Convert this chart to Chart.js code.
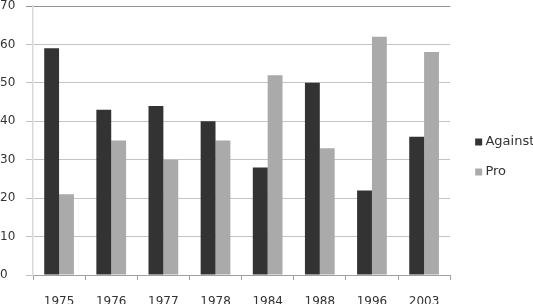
<!DOCTYPE html>
<html>
<head>
<meta charset="utf-8">
<script src="https://cdn.jsdelivr.net/npm/chart.js@4"></script>
<style>
  html, body { margin: 0; padding: 0; background: #fff; }
  #wrap { width: 533px; height: 304px; }
</style>
</head>
<body>
<div id="wrap"><canvas id="c" width="533" height="304"></canvas></div>
<script>
const categories = ["1975", "1976", "1977", "1978", "1984", "1988", "1996", "2003"];
const against = [59, 43, 44, 40, 28, 50, 22, 36];
const pro = [21, 35, 30, 35, 52, 33, 62, 58];
const seriesNames = ["Against", "Pro"];
const yTicks = [0, 10, 20, 30, 40, 50, 60, 70];

Chart.defaults.font.family = "'DejaVu Sans', sans-serif";
Chart.defaults.font.size = 12;
Chart.defaults.color = '#333';

const legendNudge = {
  id: 'legendNudge',
  afterLayout(chart) {
    const lg = chart.legend;
    if (!lg) return;
    lg.left += 11.25;
    lg.top += 5;
    lg.bottom += 5;
  }
};

new Chart(document.getElementById('c'), {
  type: 'bar',
  data: {
    labels: categories,
    datasets: [
      { label: seriesNames[0], data: against, backgroundColor: '#333333', borderWidth: 0 },
      { label: seriesNames[1], data: pro, backgroundColor: '#aaaaaa', borderWidth: 0 }
    ]
  },
  plugins: [legendNudge],
  options: {
    responsive: false,
    animation: false,
    devicePixelRatio: 1,
    layout: { padding: { top: 0, right: 0, left: 0, bottom: 0 } },
    datasets: { bar: { barPercentage: 1, categoryPercentage: 0.57 } },
    plugins: {
      tooltip: { enabled: false },
      legend: {
        position: 'right',
        maxWidth: 86,
        labels: {
          usePointStyle: true, pointStyle: 'rect',
          boxWidth: 0.5, boxHeight: 7, padding: 17,
          font: { size: 13 }, color: '#333'
        }
      }
    },
    scales: {
      x: {
        grid: { drawOnChartArea: false, color: '#a0a0a0', tickLength: 5, offset: true },
        border: { color: '#a0a0a0', width: 1 },
        ticks: { padding: 15, maxRotation: 0, autoSkip: false, color: '#333' },
        afterFit: (s) => { s.height = 29; }
      },
      y: {
        min: 0, max: 70,
        afterBuildTicks: (s) => { s.ticks = yTicks.map(v => ({ value: v })); },
        grid: {
          color: (ctx) => ctx.tick && ctx.tick.value === 70 ? '#959595' : '#c4c4c4',
          tickLength: 7
        },
        border: { color: '#d9d9d9', width: 1.5 },
        ticks: { crossAlign: 'far', padding: 0, color: '#333', font: { lineHeight: 1 } },
        afterFit: (s) => { s.width = 33; }
      }
    }
  }
});
</script>
</body>
</html>
